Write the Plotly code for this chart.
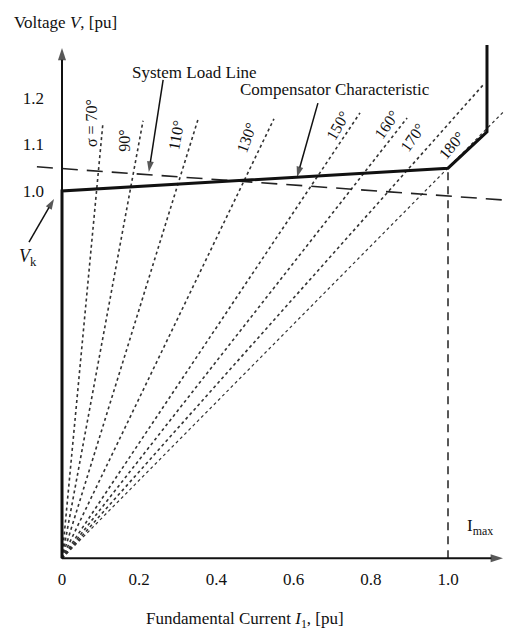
import plotly.graph_objects as go

# ---- data (schematic values) ----
sigma_labels = ["σ = 70°", "90°", "110°", "130°", "150°", "160°", "170°", "180°"]
fan_end_current = [0.106, 0.210, 0.352, 0.549, 0.772, 0.894, 1.091, 1.166]
fan_end_voltage = [1.146, 1.151, 1.153, 1.155, 1.168, 1.157, 1.228, 1.189]
origin_current = 0.0
origin_voltage = 0.21

comp_current = [0.0, 0.0, 1.0, 1.101, 1.101]
comp_voltage = [0.21, 1.0, 1.049, 1.127, 1.314]

load_current = [-0.065, 1.155]
load_voltage = [1.052, 0.980]

i_max = 1.0
x_tick_vals = [0.0, 0.2, 0.4, 0.6, 0.8, 1.0]
x_tick_text = ["0", "0.2", "0.4", "0.6", "0.8", "1.0"]
y_tick_vals = [1.0, 1.1, 1.2]
y_tick_text = ["1.0", "1.1", "1.2"]

FONT = "Liberation Serif, Times New Roman, serif"
# the page body adds an 8px margin, so the figure is 8px smaller than the window
W, H = 504, 622
X_RANGE = [-0.1399, 1.1658]
Y_RANGE = [0.0559, 1.3935]
FS = 17
INK = "#111111"

fig = go.Figure()

# fan of sigma lines from the origin
for i, lab in enumerate(sigma_labels):
    fig.add_trace(go.Scatter(
        x=[origin_current, fan_end_current[i]],
        y=[origin_voltage, fan_end_voltage[i]],
        mode="lines",
        line=dict(color="#333333", width=1.6 if i < 7 else 1.2, dash="dot"),
        hoverinfo="skip", showlegend=False))

# Imax dashed vertical
fig.add_trace(go.Scatter(
    x=[i_max, i_max], y=[origin_voltage, comp_voltage[2]],
    mode="lines", line=dict(color="#222222", width=1.5, dash="8px,6px"),
    hoverinfo="skip", showlegend=False))

# system load line
fig.add_trace(go.Scatter(
    x=load_current, y=load_voltage, mode="lines",
    line=dict(color="#222222", width=1.6, dash="16px,9px"),
    hoverinfo="skip", showlegend=False))

# compensator characteristic
fig.add_trace(go.Scatter(
    x=comp_current, y=comp_voltage, mode="lines",
    line=dict(color=INK, width=3),
    hoverinfo="skip", showlegend=False))


def arrow(x0, y0, x1, y1, width, head):
    fig.add_trace(go.Scatter(
        x=[x0, x1], y=[y0, y1], mode="lines+markers",
        line=dict(color=INK, width=width),
        marker=dict(symbol="arrow", angleref="previous", size=[0, head], color=INK,
                    line=dict(width=0)),
        hoverinfo="skip", showlegend=False, cliponaxis=False))


# axes with arrowheads
arrow(origin_current, origin_voltage, origin_current, 1.3075, 2, 13)
arrow(origin_current, origin_voltage, 1.1425, origin_voltage, 2, 13)
# pointer arrows
arrow(0.262, 1.239, 0.225, 1.041, 1.5, 11)
arrow(0.663, 1.189, 0.609, 1.030, 1.5, 11)
arrow(-0.0855, 0.890, -0.0207, 0.983, 1.5, 11)

ann = []
# sigma labels
label_pos = [(0.075, 1.146, -90), (0.163, 1.108, -90), (0.295, 1.120, -80),
             (0.479, 1.114, -70), (0.715, 1.140, -60), (0.842, 1.142, -55),
             (0.909, 1.114, -55), (1.010, 1.097, -50)]
for lab, (lx, ly, rot) in zip(sigma_labels, label_pos):
    ann.append(dict(x=lx, y=ly, xref="x", yref="y", text=lab, showarrow=False,
                    textangle=rot, font=dict(family=FONT, size=16, color=INK)))

ann.append(dict(x=0.342, y=1.254, xref="x", yref="y", text="System Load Line",
                showarrow=False, font=dict(family=FONT, size=FS, color=INK)))
ann.append(dict(x=0.707, y=1.219, xref="x", yref="y", text="Compensator Characteristic",
                showarrow=False, font=dict(family=FONT, size=FS, color=INK)))
ann.append(dict(x=-0.088, y=0.856, xref="x", yref="y", text="<i>V</i><sub>k</sub>",
                showarrow=False, font=dict(family=FONT, size=18, color=INK)))
ann.append(dict(x=1.045, y=0.277, xref="x", yref="y", xanchor="left",
                text="I<sub>max</sub>", showarrow=False,
                font=dict(family=FONT, size=FS, color=INK)))

# axis titles
ann.append(dict(x=(12 - 8) / W, y=1 - (23 - 8) / H, xref="paper", yref="paper",
                xanchor="left", yanchor="middle", text="Voltage <i>V</i>, [pu]",
                showarrow=False, font=dict(family=FONT, size=FS, color=INK)))
ann.append(dict(x=(245 - 8) / W, y=(630 - 620) / H, xref="paper", yref="paper",
                xanchor="center", yanchor="middle",
                text="Fundamental Current <i>I</i><sub>1</sub>, [pu]",
                showarrow=False, font=dict(family=FONT, size=FS, color=INK)))

fig.update_layout(
    width=W, height=H, autosize=False,
    margin=dict(l=0, r=0, t=0, b=0),
    paper_bgcolor="white", plot_bgcolor="white",
    showlegend=False,
    annotations=ann,
    xaxis=dict(range=X_RANGE, anchor="free", position=(630 - 559) / H,
               showgrid=False, zeroline=False, showline=False, ticks="",
               tickvals=x_tick_vals, ticktext=x_tick_text, ticklabelstandoff=8,
               tickfont=dict(family=FONT, size=FS, color=INK), fixedrange=True),
    yaxis=dict(range=Y_RANGE, anchor="free", position=(62 - 8) / W,
               showgrid=False, zeroline=False, showline=False, ticks="",
               tickvals=y_tick_vals, ticktext=y_tick_text, ticklabelstandoff=18,
               tickfont=dict(family=FONT, size=FS, color=INK), fixedrange=True),
)

fig.write_html("out.html")
